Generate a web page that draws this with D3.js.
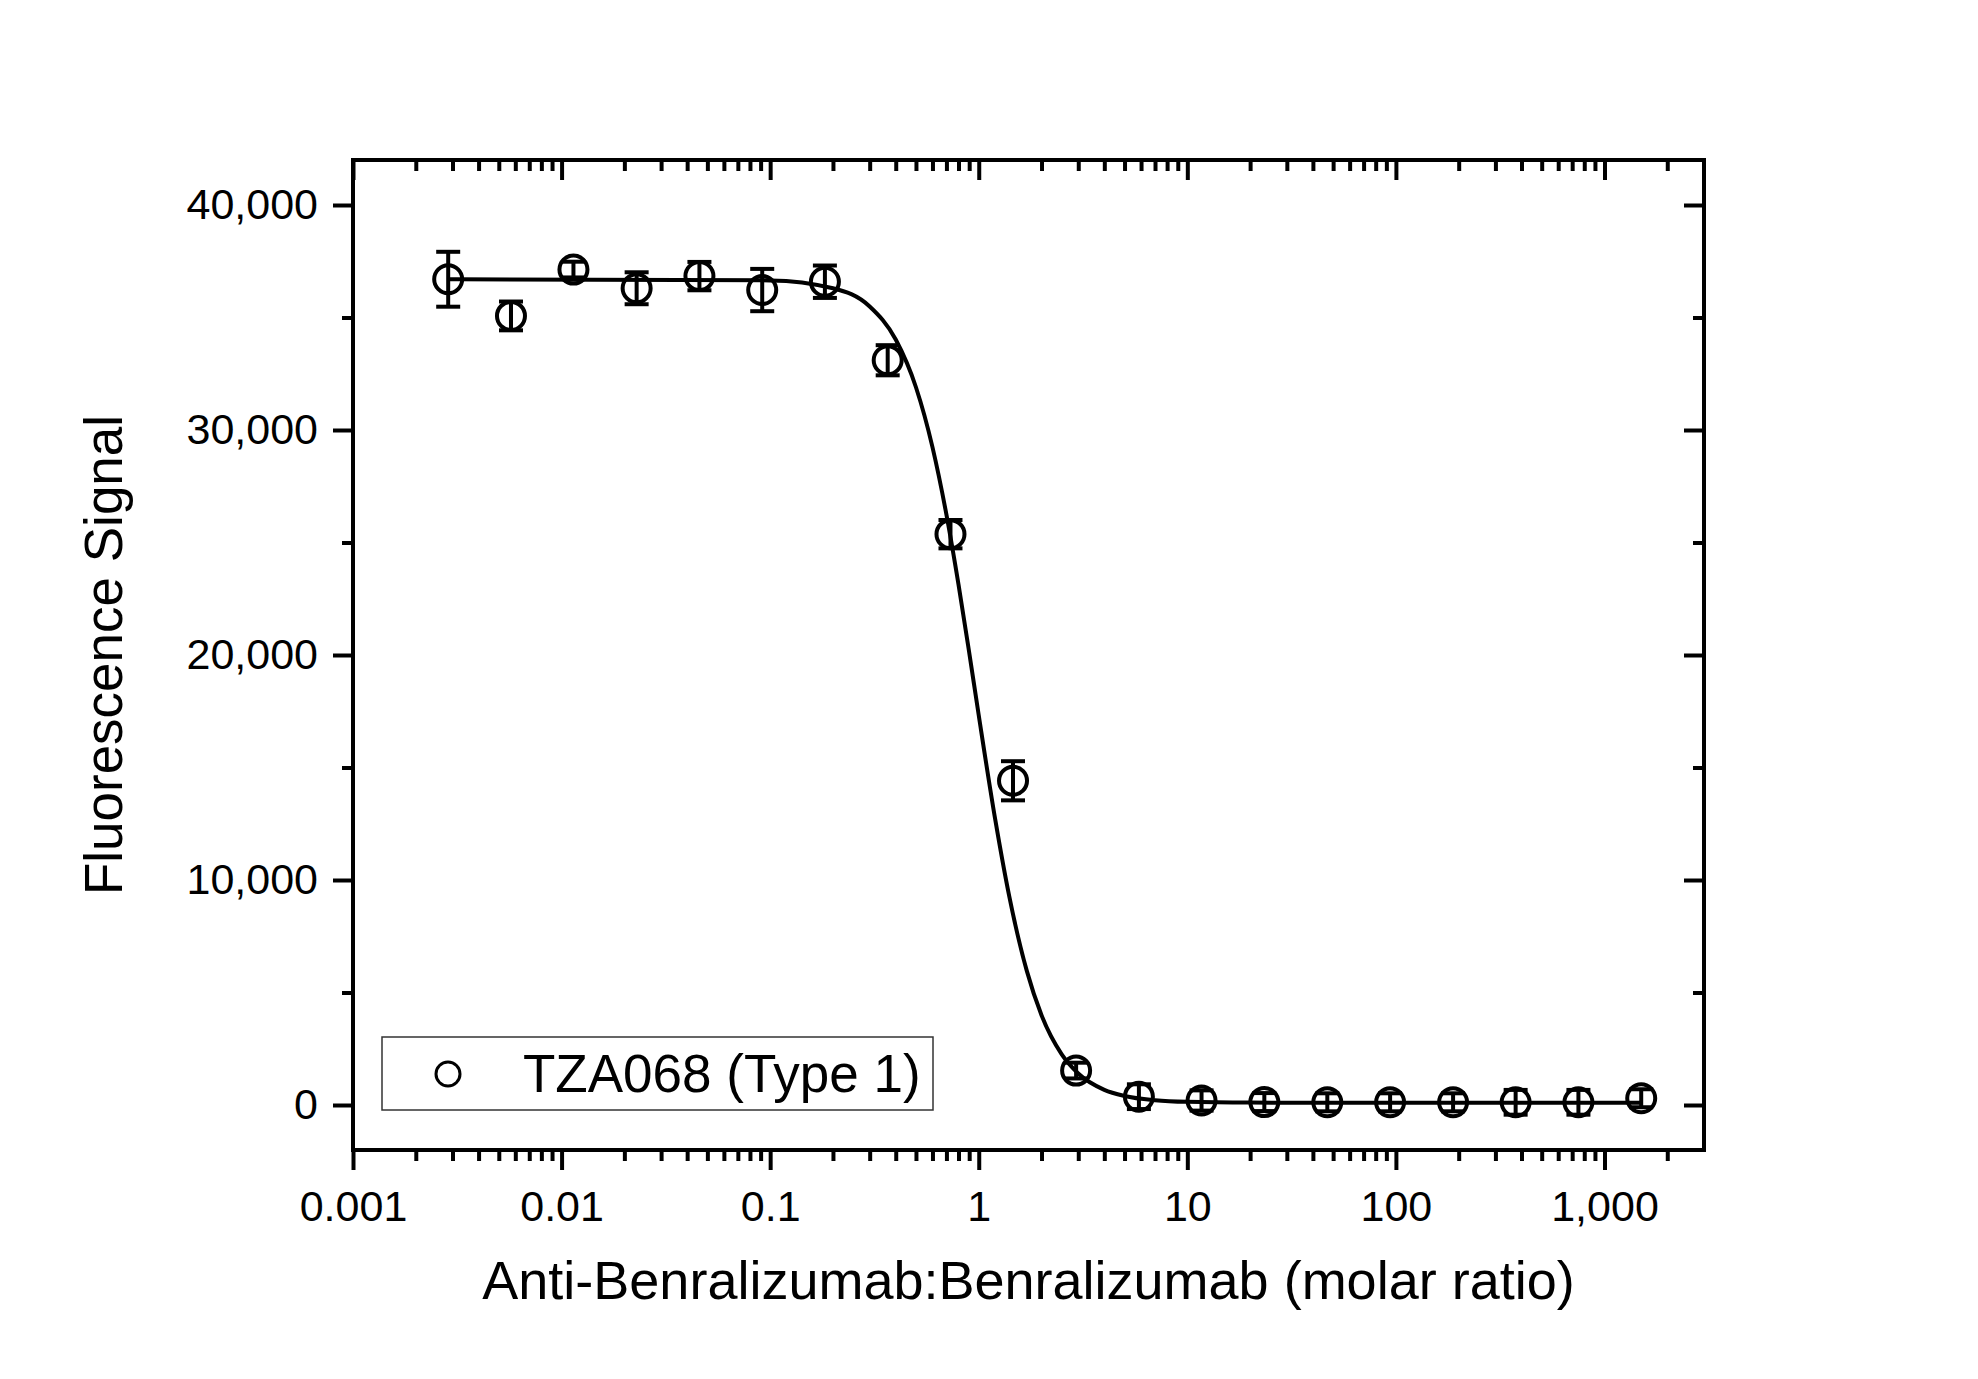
<!DOCTYPE html>
<html>
<head>
<meta charset="utf-8">
<script src="https://cdn.jsdelivr.net/npm/d3@7"></script>
<style>
  body { margin: 0; background: #fff; }
  text { font-family: "Liberation Sans", Arial, sans-serif; fill: #000; }
</style>
</head>
<body>
<script>
// measured points (molar ratio, 2-fold dilution series)
const ratio = [0.00286, 0.00572, 0.0114, 0.0229, 0.0458, 0.0916, 0.183, 0.366, 0.732, 1.46,
               2.93, 5.86, 11.7, 23.4, 46.9, 93.8, 188, 375, 750, 1500];
const signal = [36700, 35070, 37130, 36300, 36840, 36220, 36590, 33100, 25370, 14410,
                1530, 370, 200, 130, 120, 120, 120, 120, 120, 300];
const signalErr = [1220, 640, 350, 710, 630, 940, 720, 670, 630, 870,
                   350, 550, 450, 400, 400, 400, 400, 550, 550, 400];

// fitted curve
const fitX = [0.00286, 0.1, 0.2, 0.3, 0.4, 0.5, 0.6, 0.7, 0.8, 0.9, 1.0, 1.2, 1.4, 1.7,
              2.0, 2.5, 3, 4, 5, 7, 10, 20, 50, 1500];
const fitY = [36700, 36650, 36300, 35490, 34020, 31900, 29240, 26240, 23130, 20110, 17320,
              12680, 9280, 5960, 3990, 2250, 1400, 675, 403, 215, 141, 106, 100, 100];

const xTicks = [0.001, 0.01, 0.1, 1, 10, 100, 1000];
const xTickLabels = ["0.001", "0.01", "0.1", "1", "10", "100", "1,000"];
const yTicks = [0, 10000, 20000, 30000, 40000];
const yMinorTicks = [5000, 15000, 25000, 35000];

const seriesName = "TZA068 (Type 1)";
const xTitle = "Anti-Benralizumab:Benralizumab (molar ratio)";
const yTitle = "Fluorescence Signal";

const W = 1978, H = 1379;
const plotL = 353, plotR = 1704, plotT = 160, plotB = 1150;

let svg = d3.select("body").append("svg").attr("width", W).attr("height", H);
svg.append("rect").attr("width", W).attr("height", H).attr("fill", "#fff");

let x = d3.scaleLog().domain([0.001, 3000]).range([plotL, plotR]);
let y = d3.scaleLinear().domain([-2000, 42000]).range([plotB, plotT]);

// minor ticks of the log axis: 2..9 of each decade inside the domain
let xMinor = [];
for (let d of xTicks) {
    for (let k = 2; k <= 9; k++) {
        let v = d * k;
        if (v < 3000) xMinor.push(v);
    }
}

function styleAxis(g) {
    g.select(".domain").remove();
    g.selectAll(".tick line").attr("stroke", "#000").attr("stroke-width", 4);
    g.selectAll(".tick text").style("font-size", "43px").attr("fill", "#000");
}

// bottom (outward)
svg.append("g").attr("transform", `translate(0,${plotB})`)
    .call(d3.axisBottom(x).tickValues(xTicks).tickSize(20).tickPadding(20)
        .tickFormat((d, i) => xTickLabels[i]))
    .call(styleAxis);
svg.append("g").attr("transform", `translate(0,${plotB})`)
    .call(d3.axisBottom(x).tickValues(xMinor).tickSize(11).tickFormat(""))
    .call(styleAxis);
// top (inward)
svg.append("g").attr("transform", `translate(0,${plotT})`)
    .call(d3.axisBottom(x).tickValues(xTicks).tickSize(20).tickFormat(""))
    .call(styleAxis);
svg.append("g").attr("transform", `translate(0,${plotT})`)
    .call(d3.axisBottom(x).tickValues(xMinor).tickSize(11).tickFormat(""))
    .call(styleAxis);
// left (outward)
svg.append("g").attr("transform", `translate(${plotL},0)`)
    .call(d3.axisLeft(y).tickValues(yTicks).tickSize(20).tickPadding(15).tickFormat(d3.format(",")))
    .call(styleAxis);
svg.append("g").attr("transform", `translate(${plotL},0)`)
    .call(d3.axisLeft(y).tickValues(yMinorTicks).tickSize(11).tickFormat(""))
    .call(styleAxis);
// right (inward)
svg.append("g").attr("transform", `translate(${plotR},0)`)
    .call(d3.axisLeft(y).tickValues(yTicks).tickSize(20).tickFormat(""))
    .call(styleAxis);
svg.append("g").attr("transform", `translate(${plotR},0)`)
    .call(d3.axisLeft(y).tickValues(yMinorTicks).tickSize(11).tickFormat(""))
    .call(styleAxis);

// frame
svg.append("rect")
    .attr("x", plotL).attr("y", plotT)
    .attr("width", plotR - plotL).attr("height", plotB - plotT)
    .attr("fill", "none").attr("stroke", "#000").attr("stroke-width", 4);

// fit curve
let fit = fitX.map((v, i) => [v, fitY[i]]);
svg.append("path")
    .datum(fit)
    .attr("fill", "none")
    .attr("stroke", "#000")
    .attr("stroke-width", 4)
    .attr("d", d3.line().x(d => x(d[0])).y(d => y(d[1])).curve(d3.curveMonotoneX));

// points with error bars
let pts = ratio.map((v, i) => ({ x: v, y: signal[i], e: signalErr[i] }));
let capW = 12;
let eb = svg.append("g").attr("stroke", "#000").attr("stroke-width", 4);
eb.selectAll("line.v").data(pts).enter().append("line")
    .attr("class", "v")
    .attr("x1", d => x(d.x)).attr("x2", d => x(d.x))
    .attr("y1", d => y(d.y + d.e)).attr("y2", d => y(d.y - d.e));
eb.selectAll("line.t").data(pts).enter().append("line")
    .attr("class", "t")
    .attr("x1", d => x(d.x) - capW).attr("x2", d => x(d.x) + capW)
    .attr("y1", d => y(d.y + d.e)).attr("y2", d => y(d.y + d.e));
eb.selectAll("line.b").data(pts).enter().append("line")
    .attr("class", "b")
    .attr("x1", d => x(d.x) - capW).attr("x2", d => x(d.x) + capW)
    .attr("y1", d => y(d.y - d.e)).attr("y2", d => y(d.y - d.e));

svg.append("g").selectAll("circle").data(pts).enter().append("circle")
    .attr("cx", d => x(d.x)).attr("cy", d => y(d.y))
    .attr("r", 14)
    .attr("fill", "none").attr("stroke", "#000").attr("stroke-width", 4);

// legend
let lg = svg.append("g").attr("transform", "translate(382,1037)");
lg.append("rect").attr("width", 551).attr("height", 73)
    .attr("fill", "none").attr("stroke", "#333").attr("stroke-width", 1.5);
lg.append("circle").attr("cx", 66).attr("cy", 37).attr("r", 12)
    .attr("fill", "none").attr("stroke", "#000").attr("stroke-width", 3);
lg.append("text").attr("x", 141).attr("y", 55).style("font-size", "53px").text(seriesName);

// axis titles
svg.append("text")
    .attr("x", (plotL + plotR) / 2).attr("y", 1299)
    .attr("text-anchor", "middle")
    .style("font-size", "54px")
    .text(xTitle);
svg.append("text")
    .attr("transform", `translate(122,${(plotT + plotB) / 2}) rotate(-90)`)
    .attr("text-anchor", "middle")
    .style("font-size", "53px")
    .text(yTitle);
</script>
</body>
</html>
